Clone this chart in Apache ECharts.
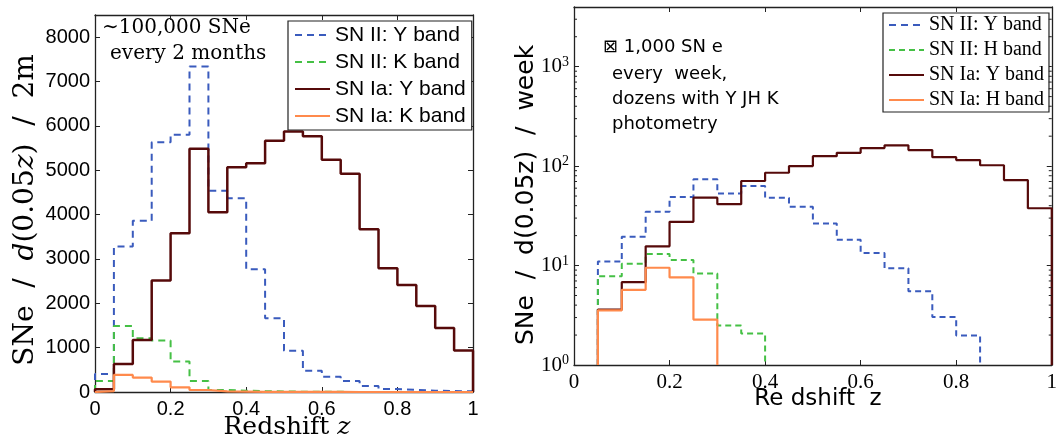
<!DOCTYPE html>
<html>
<head>
<meta charset="utf-8">
<title>SNe per redshift bin</title>
<script src="https://cdn.jsdelivr.net/npm/echarts@6/dist/echarts.min.js"></script>
<style>html,body{margin:0;padding:0;background:#fff;}</style>
</head>
<body>
<div id="main" style="width:1060px;height:444px;"></div>
<script>
// bins of 0.05 in z, from z = 0 to 1 (20 bins)
var binWidth = 0.05;

// left panel: SNe / d(0.05z) / 2 months
var leftNames = ['SN II: Y band', 'SN II: K band', 'SN Ia: Y band', 'SN Ia: K band'];
var leftSN2Y  = [406, 3280, 3860, 5630, 5800, 7340, 4540, 4370, 2770, 1660, 930, 480, 345, 250, 135, 70, 45, 30, 20, 15];
var leftSN2K  = [250, 1490, 1210, 1160, 685, 250, 45, 30, 20, 12, 8, 5, 3, 2, 1, 1, 0, 0, 0, 0];
var leftSN1aY = [60, 630, 1175, 2515, 3580, 5485, 4055, 5070, 5160, 5665, 5875, 5765, 5235, 4920, 3670, 2790, 2415, 1940, 1445, 935];
var leftSN1aK = [20, 385, 325, 235, 105, 45, 15, 10, 5, 3, 2, 1, 1, 0, 0, 0, 0, 0, 0, 0];

// right panel: SNe / d(0.05z) / week (log scale), null = empty bin
var rightNames = ['SN II: Y band', 'SN II: H band', 'SN Ia: Y band', 'SN Ia: H band'];
var rightSN2Y  = [null, 11, 19.5, 34.7, 49, 73.6, 52.9, 63, 48.2, 39, 26.5, 18.2, 13.4, 9.4, 5.5, 3.04, 1.98, null, null, null];
var rightSN2H  = [null, 7.8, 10.4, 13.1, 11.4, 8.3, 2.5, 2.07, null, null, null, null, null, null, null, null, null, null, null, null];
var rightSN1aY = [null, 3.6, 6.8, 15.6, 27.5, 48.2, 41.4, 70.8, 85.8, 100, 126, 136, 152, 162, 145, 123, 115, 102, 72.4, 37.7];
var rightSN1aH = [null, 3.55, 5.7, 9.5, 7.6, 2.86, null, null, null, null, null, null, null, null, null, null, null, null, null, null];

var logMinorTicks = [2, 3, 4, 5, 6, 7, 8, 9, 20, 30, 40, 50, 60, 70, 80, 90, 200, 300, 400, 500, 600, 700, 800, 900, 2000, 3000];

var cBlue = '#3a5bbd', cGreen = '#45c045', cRed = '#560a0a', cOrange = '#ff8a4c';

// histogram outline, dropping to 0 at both ends
function stepLinear(vals) {
  var pts = [[0, 0]];
  for (var i = 0; i < vals.length; i++) {
    pts.push([i * binWidth, vals[i]], [(i + 1) * binWidth, vals[i]]);
  }
  pts.push([vals.length * binWidth, 0]);
  return pts;
}
// same on log axis, dropping to the axis floor (1)
function stepLog(vals) {
  var first = -1, last = -1, i;
  for (i = 0; i < vals.length; i++) {
    if (vals[i] != null) { if (first < 0) first = i; last = i; }
  }
  var pts = [[first * binWidth, 1]];
  for (i = first; i <= last; i++) {
    pts.push([i * binWidth, vals[i]], [(i + 1) * binWidth, vals[i]]);
  }
  pts.push([(last + 1) * binWidth, 1]);
  return pts;
}

function line(name, data, xi, color, width, dash) {
  return {
    name: name, type: 'line', xAxisIndex: xi, yAxisIndex: xi, data: data,
    symbol: 'none', silent: true,
    lineStyle: { color: color, width: width, type: dash || 'solid' },
    itemStyle: { color: color }
  };
}

var axisLine = { show: true, onZero: false, lineStyle: { color: '#222', width: 1.3 } };
var tick = { show: true, inside: true, length: 5, lineStyle: { color: '#222', width: 1 } };

function linX(grid, pos, label) {
  return {
    type: 'value', gridIndex: grid, position: pos, min: 0, max: 1, interval: 0.2,
    axisLine: axisLine, axisTick: tick, splitLine: { show: false },
    axisLabel: label || { show: false }
  };
}

var myChart = echarts.init(document.getElementById('main'));
var option = {
  animation: false,
  grid: [
    { left: 95, top: 15, width: 378, height: 377 },
    { left: 574, top: 7, width: 479, height: 358 }
  ],
  xAxis: [
    linX(0, 'bottom', { margin: 7, fontFamily: 'Liberation Sans', fontSize: 20, color: '#000' }),
    linX(0, 'top'),
    linX(1, 'bottom', { margin: 7, fontFamily: 'Liberation Serif', fontSize: 21, color: '#000' }),
    linX(1, 'top')
  ],
  yAxis: [
    {
      type: 'value', gridIndex: 0, position: 'left', min: 0, max: 8500, interval: 1000,
      axisLine: axisLine, axisTick: tick, splitLine: { show: false },
      axisLabel: {
        margin: 5, fontFamily: 'Liberation Sans', fontSize: 20, color: '#000',
        formatter: function (v) { return v % 1000 === 0 ? String(v) : ''; }
      }
    },
    {
      type: 'value', gridIndex: 0, position: 'right', min: 0, max: 8500, interval: 1000,
      axisLine: axisLine, axisTick: tick, splitLine: { show: false }, axisLabel: { show: false }
    },
    {
      type: 'log', logBase: 10, gridIndex: 1, position: 'left', min: 1, max: 3981,
      axisLine: axisLine, axisTick: tick, splitLine: { show: false },
      axisLabel: {
        margin: 5, fontFamily: 'Liberation Serif', fontSize: 21, color: '#000',
        formatter: function (v) {
          var e = Math.log(v) / Math.LN10;
          if (Math.abs(e - Math.round(e)) > 1e-6) return '';
          return '10{s|' + Math.round(e) + '}';
        },
        rich: { s: { fontFamily: 'Liberation Serif', fontSize: 14, color: '#000', verticalAlign: 'top', padding: [0, 0, 9, 0] } }
      }
    },
    {
      type: 'log', logBase: 10, gridIndex: 1, position: 'right', min: 1, max: 3981,
      axisLine: axisLine, axisTick: tick, splitLine: { show: false }, axisLabel: { show: false }
    }
  ],
  legend: [
    {
      data: leftNames, orient: 'vertical', left: 288, top: 21,
      itemWidth: 35, itemHeight: 12, itemGap: 5, padding: [3, 6, 3, 6],
      borderColor: '#222', borderWidth: 1.2, backgroundColor: '#fff', selectedMode: false,
      itemStyle: { opacity: 0, borderWidth: 0 },
      textStyle: { fontFamily: 'Liberation Sans', fontSize: 21, color: '#000', lineHeight: 22 }
    },
    {
      data: rightNames, orient: 'vertical', left: 883, top: 13,
      itemWidth: 35, itemHeight: 12, itemGap: 5, padding: [2, 5, 2, 5],
      borderColor: '#222', borderWidth: 1.2, backgroundColor: '#fff', selectedMode: false,
      itemStyle: { opacity: 0, borderWidth: 0 },
      textStyle: { fontFamily: 'Liberation Serif', fontSize: 20, color: '#000', lineHeight: 20 }
    }
  ],
  series: [
    line(leftNames[0], stepLinear(leftSN2Y), 0, cBlue, 2, [7, 5]),
    line(leftNames[1], stepLinear(leftSN2K), 0, cGreen, 2, [7, 5]),
    line(leftNames[2], stepLinear(leftSN1aY), 0, cRed, 2.5),
    line(leftNames[3], stepLinear(leftSN1aK), 0, cOrange, 2.2),
    line(rightNames[0], stepLog(rightSN2Y), 2, cBlue, 2, [6, 4]),
    line(rightNames[1], stepLog(rightSN2H), 2, cGreen, 2, [6, 4]),
    line(rightNames[2], stepLog(rightSN1aY), 2, cRed, 2.2),
    line(rightNames[3], stepLog(rightSN1aH), 2, cOrange, 2.2),
    {
      // minor ticks of the log axis, on both sides of the box
      type: 'custom', xAxisIndex: 2, yAxisIndex: 2, silent: true, clip: false, z: 5,
      data: logMinorTicks.map(function (v) { return [0, v]; }),
      renderItem: function (params, api) {
        var v = api.value(1);
        var pl = api.coord([0, v]);
        var pr = api.coord([1, v]);
        var st = { stroke: '#222', lineWidth: 1 };
        return {
          type: 'group', children: [
            { type: 'line', shape: { x1: pl[0], y1: pl[1], x2: pl[0] + 3, y2: pl[1] }, style: st },
            { type: 'line', shape: { x1: pr[0] - 3, y1: pr[1], x2: pr[0], y2: pr[1] }, style: st }
          ]
        };
      }
    }
  ],
  graphic: [
    {
      type: 'text', x: 26, y: 210, rotation: Math.PI / 2,
      style: {
        text: 'SNe  /  {i|d}(0.05{i|z})  /  2m', fontFamily: 'DejaVu Serif', fontSize: 28, fill: '#000',
        align: 'center', verticalAlign: 'middle',
        rich: { i: { fontStyle: 'italic', fontFamily: 'DejaVu Serif', fontSize: 28 } }
      }
    },
    {
      type: 'text', x: 287, y: 427,
      style: {
        text: 'Redshift {i|z}', fontFamily: 'DejaVu Serif', fontSize: 25, fill: '#000',
        align: 'center', verticalAlign: 'middle',
        rich: { i: { fontStyle: 'italic', fontFamily: 'DejaVu Serif', fontSize: 25 } }
      }
    },
    { type: 'text', x: 102, y: 28, style: { text: '\u223C100,000 SNe', fontFamily: 'DejaVu Serif', fontSize: 20, fill: '#000', align: 'left', verticalAlign: 'middle' } },
    { type: 'text', x: 110, y: 54, style: { text: 'every 2 months', fontFamily: 'DejaVu Serif', fontSize: 20, fill: '#000', align: 'left', verticalAlign: 'middle' } },
    {
      type: 'text', x: 526, y: 195, rotation: Math.PI / 2,
      style: { text: 'SNe  /  d(0.05z)  /  week', fontFamily: 'DejaVu Sans', fontSize: 25, fill: '#000', align: 'center', verticalAlign: 'middle' }
    },
    { type: 'text', x: 818, y: 399, style: { text: 'Re dshift  z', fontFamily: 'DejaVu Sans', fontSize: 23, fill: '#000', align: 'center', verticalAlign: 'middle' } },
    { type: 'text', x: 603, y: 47, style: { text: '\u22A0 1,000 SN e', fontFamily: 'DejaVu Sans', fontSize: 18, fill: '#000', align: 'left', verticalAlign: 'middle' } },
    { type: 'text', x: 612, y: 74, style: { text: 'every  week,', fontFamily: 'DejaVu Sans', fontSize: 18, fill: '#000', align: 'left', verticalAlign: 'middle' } },
    { type: 'text', x: 612, y: 99, style: { text: 'dozens with Y JH K', fontFamily: 'DejaVu Sans', fontSize: 18, fill: '#000', align: 'left', verticalAlign: 'middle' } },
    { type: 'text', x: 612, y: 124, style: { text: 'photometry', fontFamily: 'DejaVu Sans', fontSize: 18, fill: '#000', align: 'left', verticalAlign: 'middle' } }
  ]
};
myChart.setOption(option);
</script>
</body>
</html>
